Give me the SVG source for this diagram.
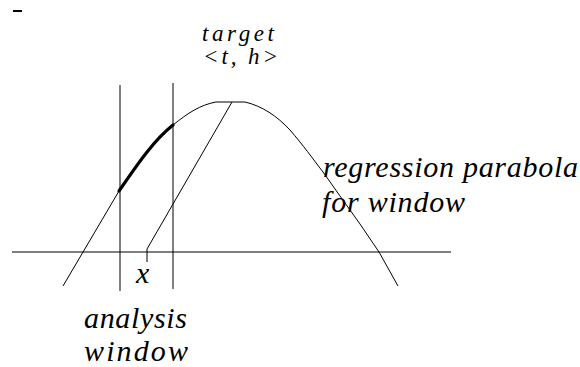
<svg xmlns="http://www.w3.org/2000/svg" width="580" height="367" viewBox="0 0 580 367">
<style>
  .ln { fill: none; stroke: #000; stroke-width: 1; }
  .thick { fill: none; stroke: #000; stroke-width: 3.2; stroke-linecap: round; }
  text { fill: #000; }
</style>
<rect width="580" height="367" fill="#fff"/>
<g id="mark">
  <line x1="13" y1="11" x2="22" y2="11" stroke="#000" stroke-width="2"/>
</g>
<g id="axes">
  <line class="ln" x1="12" y1="252" x2="451" y2="252"/>
  <line class="ln" x1="120" y1="85" x2="120" y2="291"/>
  <line class="ln" x1="173" y1="83" x2="173" y2="289"/>
</g>
<g id="parabola">
  <path class="ln" d="M63,286 L119,191 C137,165 153,141 173,125 C188,113 200,105 216,102 L245,102 C262,106 277,116 290,130 C303,145 313,159 323,172 L340,196 L360,224 L379,252 L398,286"/>
  <path class="thick" d="M119,191 C137,165 153,141 173,125"/>
</g>
<g id="target-line">
  <polyline class="ln" points="232,102 147,249 147,262"/>
</g>
<g id="labels" font-family="Liberation Serif, Times New Roman, serif" font-style="italic">
  <text x="202" y="41" font-size="23" textLength="72" lengthAdjust="spacing">target</text>
  <text x="203" y="64" font-size="23" textLength="75" lengthAdjust="spacing">&lt;t, h&gt;</text>
  <text x="323" y="177" font-size="30" textLength="255" lengthAdjust="spacing">regression parabola</text>
  <text x="322" y="212" font-size="30" textLength="143" lengthAdjust="spacing">for window</text>
  <text x="136" y="283" font-size="30">x</text>
  <text x="84" y="328" font-size="30" textLength="103" lengthAdjust="spacing">analysis</text>
  <text x="84" y="361" font-size="30" textLength="104" lengthAdjust="spacing">window</text>
</g>
</svg>
